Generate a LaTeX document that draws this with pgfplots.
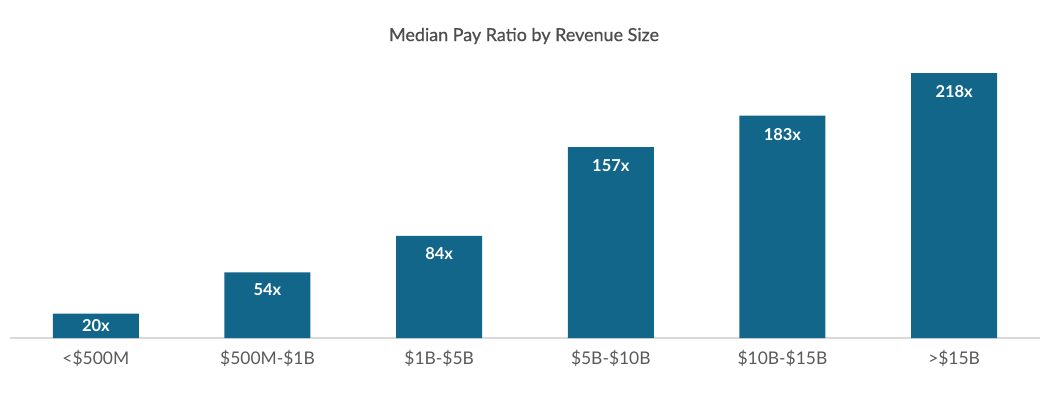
\documentclass[border=0pt]{standalone}
\usepackage{fontspec}
\setmainfont{Lato}
\newfontfamily\titlefont{Lato}[FakeBold=0.6]
\usepackage{pgfplots}
\pgfplotsset{compat=1.18}
\usetikzlibrary{calc}
\definecolor{barblue}{HTML}{12668A}
\definecolor{axgray}{HTML}{D9D9D9}
\definecolor{txtgray}{HTML}{595959}
\definecolor{titlegray}{HTML}{4D4D4D}
\begin{document}
\begin{tikzpicture}
\begin{axis}[
  scale only axis,
  width=1030bp, height=278bp,
  xmin=-0.5, xmax=5.5, ymin=0, ymax=228.7,
  axis x line*=bottom, axis y line=none,
  x axis line style={draw=axgray, line width=1.2bp, -},
  xtick={0,1,2,3,4,5},
  xticklabels={<\$500M,\$500M-\$1B,\$1B-\$5B,\$5B-\$10B,\$10B-\$15B,>\$15B},
  major tick length=0pt,
  xticklabel style={font=\fontsize{17.5}{20}\selectfont, text=txtgray, yshift=-9bp},
  ytick=\empty,
  clip=false,
]
\addplot[ybar, bar width=86bp, fill=barblue, draw=none] coordinates {
  (0,20) (1,54) (2,84) (3,157) (4,183) (5,218)
};
\addplot[draw=none, mark=none, nodes near coords, point meta=explicit symbolic,
  every node near coord/.style={anchor=center, text=white, font=\bfseries\fontsize{16.5}{19}\selectfont}]
  coordinates {
  (0,10.2)[20x] (1,39.5)[54x] (2,69.3)[84x] (3,141.8)[157x] (4,167.5)[183x] (5,202.5)[218x]
};
\end{axis}
\path (current axis.south west) ++(-10bp,-57bp) coordinate (bl);
\path[use as bounding box] (bl) rectangle ++(1060bp,395bp);
\node[text=titlegray, font=\titlefont\fontsize{18}{21}\selectfont] at ($(bl)+(524bp,359bp)$) {Median Pay Ratio by Revenue Size};
\end{tikzpicture}
\end{document}
